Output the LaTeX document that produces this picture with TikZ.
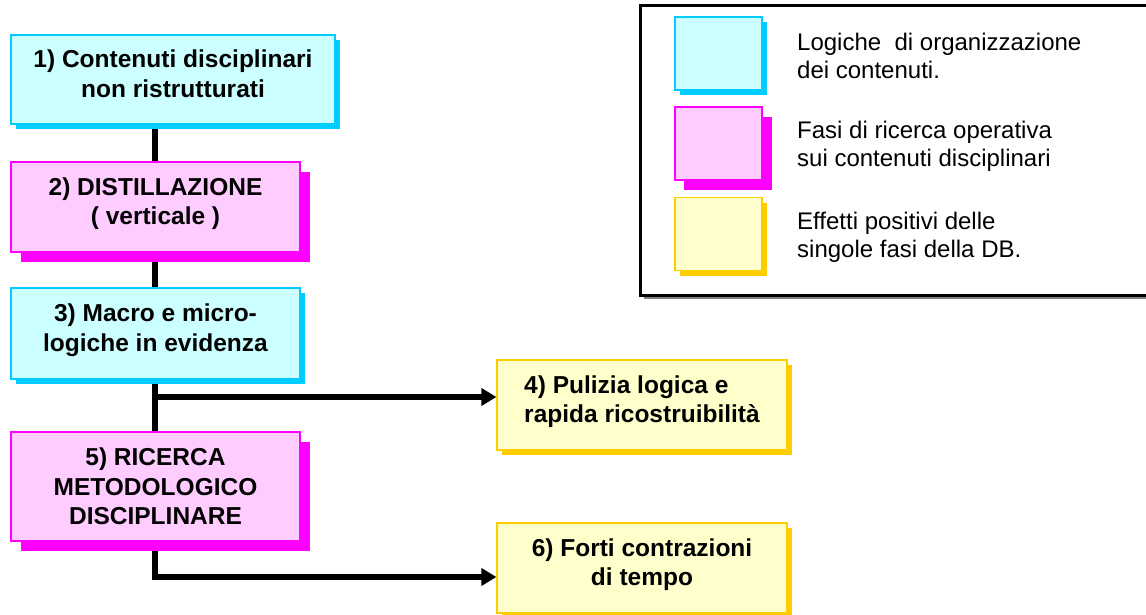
\documentclass[tikz,border=0pt]{standalone}
\usepackage{fontspec}
\setmainfont{Liberation Sans}
\usetikzlibrary{arrows.meta,shadows,backgrounds}

\definecolor{cyanfill}{HTML}{CCFFFF}
\definecolor{cyanedge}{HTML}{00CCFF}
\definecolor{pinkfill}{HTML}{FFCCFF}
\definecolor{pinkedge}{HTML}{FF00FF}
\definecolor{yellowfill}{HTML}{FFFFCC}
\definecolor{yellowedge}{HTML}{FFCC00}

\tikzset{
	box/.style={line width=1.2pt, inner sep=0pt, minimum width=289pt, minimum height=90pt,
		align=center, text depth=12pt, font=\bfseries\fontsize{24.5}{29.5}\selectfont},
	logicbox/.style={box, draw=cyanedge, fill=cyanfill,
		drop shadow={shadow xshift=5pt, shadow yshift=-5pt, fill=cyanedge, opacity=1}},
	phasebox/.style={box, draw=pinkedge, fill=pinkfill,
		drop shadow={shadow xshift=10pt, shadow yshift=-10pt, fill=pinkedge, opacity=1}},
	effectbox/.style={box, draw=yellowedge, fill=yellowfill,
		drop shadow={shadow xshift=5pt, shadow yshift=-5pt, fill=yellowedge, opacity=1}},
	swatch/.style={box, minimum width=87pt, minimum height=73pt},
	legtext/.style={anchor=north west, inner sep=0pt, align=left,
		font=\fontsize{24}{28}\selectfont},
	link/.style={line width=5.5pt, -{Triangle[length=15pt, width=17pt]}},
}

\begin{document}
\begin{tikzpicture}[x=1pt, y=-1pt]
	\useasboundingbox (0,0) rectangle (1146,615);

	% Legend
	\node[draw, line width=3pt, fill=white, minimum width=510pt, minimum height=289pt,
		drop shadow={shadow xshift=4pt, shadow yshift=-4pt, fill=black!50, opacity=1}] (legend) at (895,150.5) {};
	\node[logicbox, swatch] (keylogic) at (718.5,53.5) {};
	\node[phasebox, swatch, drop shadow={shadow xshift=9pt, shadow yshift=-10pt, fill=pinkedge, opacity=1}] (keyphase) at (718.5,143.5) {};
	\node[effectbox, swatch] (keyeffect) at (718.5,234) {};
	\node[legtext] (txtlogic) at (797,33) {Logiche\ \ di organizzazione\\dei contenuti.};
	\node[legtext] (txtphase) at (797,121) {Fasi di ricerca operativa\\sui contenuti disciplinari};
	\node[legtext] (txteffect) at (797,211.5) {Effetti positivi delle\\singole fasi della DB.};

	% Nodes
	\node[logicbox, minimum width=324pt, minimum height=89pt] (step1) at (173,79.5) {1) Contenuti disciplinari\\non ristrutturati};
	\node[phasebox] (step2) at (155.5,207) {2) DISTILLAZIONE\\( verticale )};
	\node[logicbox, minimum height=91pt] (step3) at (155.5,333.5) {3) Macro e micro-\\logiche in evidenza};
	\node[effectbox, minimum width=290pt, align=left] (step4) at (642,405) {4) Pulizia logica e\\rapida ricostruibilità};
	\node[phasebox, minimum height=109pt, text depth=0pt] (step5) at (155.5,486.5) {5) RICERCA\\METODOLOGICO\\DISCIPLINARE};
	\node[effectbox, minimum width=290pt] (step6) at (642,568) {6) Forti contrazioni\\di tempo};

	\coordinate (fork4) at (155,397);
	\coordinate (fork6) at (155,577);

	% Links
	\begin{scope}[on background layer]
		\draw[link] (step1.south -| fork6) -- (fork6) -- (fork6 -| step6.west);
		\draw[link] (fork4) -- (fork4 -| step4.west);
	\end{scope}
\end{tikzpicture}
\end{document}
